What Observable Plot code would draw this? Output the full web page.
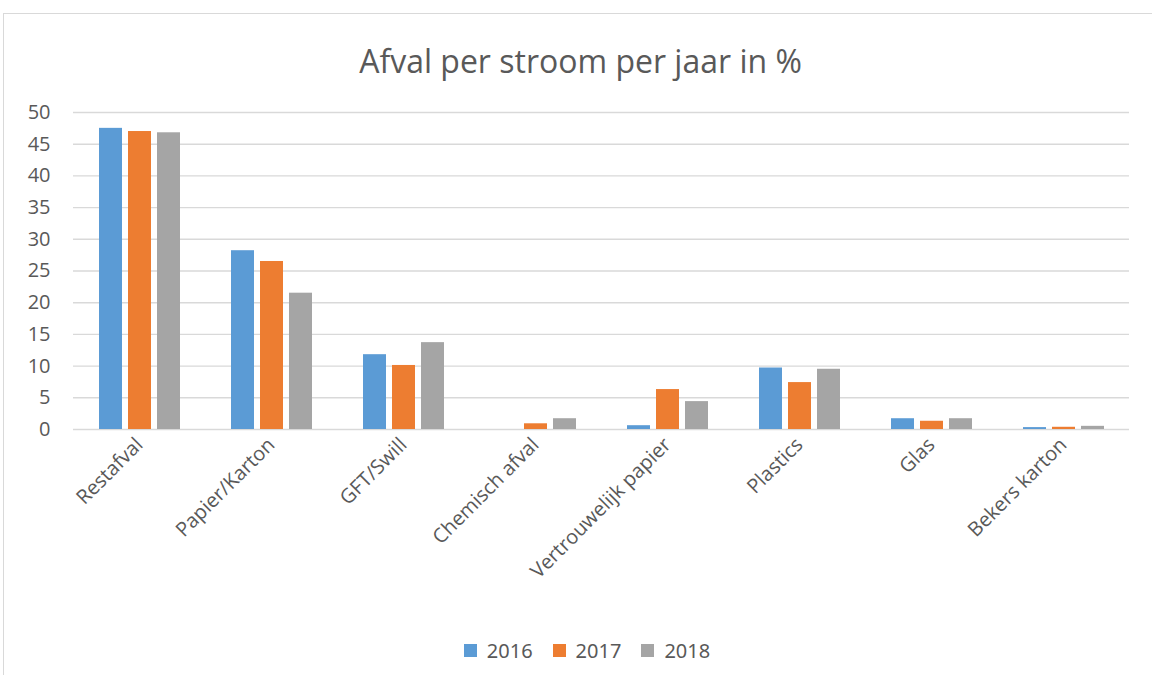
<!DOCTYPE html>
<html>
<head>
<meta charset="utf-8">
<script src="https://cdn.jsdelivr.net/npm/d3@7"></script>
<script src="https://cdn.jsdelivr.net/npm/@observablehq/plot@0.6"></script>
<style>
  html, body { margin: 0; padding: 0; background: #fff; }
  body { width: 1152px; height: 675px; position: relative; overflow: hidden; font-family: "Open Sans", sans-serif; color: #595959; }
  #frame { position: absolute; left: 3px; top: 13px; width: 1300px; height: 800px; border-left: 1.5px solid #d9d9d9; border-top: 1.5px solid #d9d9d9; box-sizing: border-box; }
  #title { position: absolute; left: 0; top: 41px; width: 1161px; text-align: center; font-size: 32px; line-height: 40px; color: #595959; }
  #chart { position: absolute; left: 0; top: 85px; }
  #legend { position: absolute; left: 0; top: 634px; width: 1194px; display: flex; justify-content: center; }
  .lg { font-family: "Open Sans", sans-serif; font-size: 20px; color: #595959; }
</style>
</head>
<body>
<div id="frame"></div>
<div id="title">Afval per stroom per jaar in %</div>
<div id="chart"></div>
<div id="legend"></div>
<script>
const categories = ["Restafval", "Papier/Karton", "GFT/Swill", "Chemisch afval", "Vertrouwelijk papier", "Plastics", "Glas", "Bekers karton"];
const years = ["2016", "2017", "2018"];
const values2016 = [47.5, 28.2, 11.8, 0, 0.6, 9.7, 1.7, 0.3];
const values2017 = [47.0, 26.5, 10.1, 0.9, 6.3, 7.4, 1.3, 0.35];
const values2018 = [46.8, 21.5, 13.7, 1.7, 4.4, 9.5, 1.7, 0.5];
const yTicks = [0, 5, 10, 15, 20, 25, 30, 35, 40, 45, 50];
const colors = ["#5B9BD5", "#ED7D31", "#A5A5A5"];

const series = [values2016, values2017, values2018];
const data = [];
categories.forEach((c, i) => {
  years.forEach((yr, j) => {
    data.push({cat: c, year: yr, value: series[j][i]});
  });
});

const textColor = "#595959";
const plot = Plot.plot({
  width: 1152,
  height: 560,
  marginTop: 27,
  marginBottom: 216,
  marginLeft: 71,
  marginRight: 22,
  style: {fontFamily: "'Open Sans', sans-serif", fontSize: "20px", color: textColor, background: "transparent", overflow: "visible"},
  fx: {domain: categories, paddingInner: 0, paddingOuter: 0, label: null},
  x: {domain: years, paddingInner: 0.22, paddingOuter: 0.854, axis: null},
  y: {domain: [0, 50], label: null},
  color: {domain: years, range: colors},
  marks: [
    Plot.gridY(yTicks, {stroke: "#d9d9d9", strokeOpacity: 1, strokeWidth: 1.4}),
    Plot.axisY({ticks: yTicks, tickSize: 0, tickPadding: 23, label: null, fill: textColor, fontSize: 20}),
    Plot.barY(data, {fx: "cat", x: "year", y: "value", fill: "year"}),
    Plot.axisFx({anchor: "bottom", tickRotate: -45, tickSize: 0, tickPadding: 12, label: null, fill: textColor, fontSize: 20})
  ]
});
document.getElementById("chart").appendChild(plot);

const legend = Plot.legend({
  color: {domain: years, range: colors},
  legend: "swatches",
  swatchSize: 13,
  className: "lg",
  style: {fontSize: "20px", color: textColor}
});
document.getElementById("legend").appendChild(legend);
</script>
</body>
</html>
